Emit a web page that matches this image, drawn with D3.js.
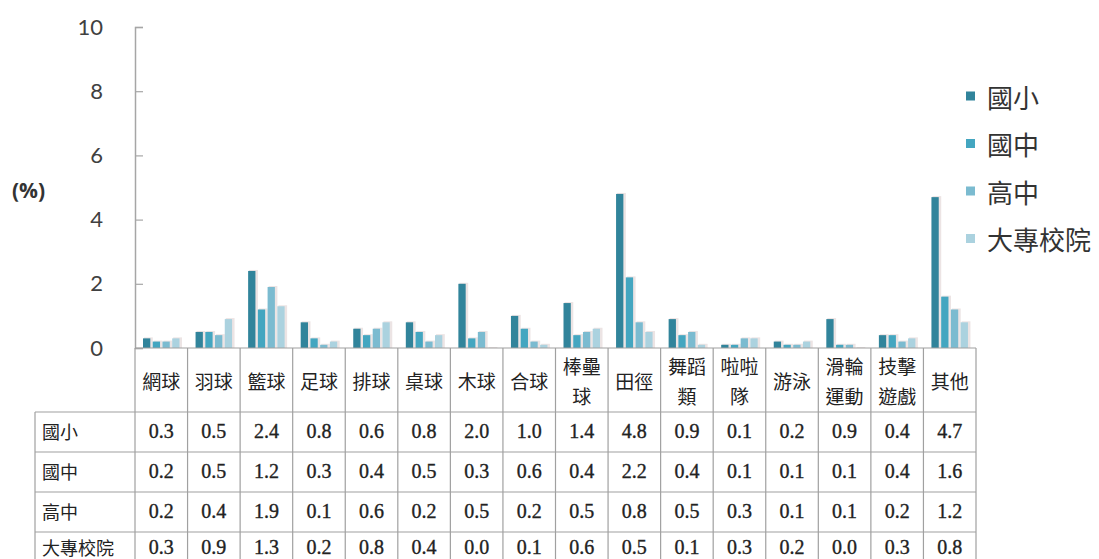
<!DOCTYPE html>
<html>
<head>
<meta charset="utf-8">
<script src="https://cdn.jsdelivr.net/npm/d3@7"></script>
<style>
  html, body { margin: 0; padding: 0; background: #fff; }
  svg { display: block; }
</style>
</head>
<body>
<div id="chart"></div>
<script>
// Sports categories (header lines split where the table wraps them)
const categories = ["網球","羽球","籃球","足球","排球","桌球","木球","合球","棒壘球","田徑","舞蹈類","啦啦隊","游泳","滑輪運動","技擊遊戲","其他"];
const categoryLines = [["網球"],["羽球"],["籃球"],["足球"],["排球"],["桌球"],["木球"],["合球"],["棒壘","球"],["田徑"],["舞蹈","類"],["啦啦","隊"],["游泳"],["滑輪","運動"],["技擊","遊戲"],["其他"]];

// School levels
const seriesNames = ["國小","國中","高中","大專校院"];

// Percentages per level, one value per category
const elementary = [0.3,0.5,2.4,0.8,0.6,0.8,2.0,1.0,1.4,4.8,0.9,0.1,0.2,0.9,0.4,4.7];
const juniorHigh = [0.2,0.5,1.2,0.3,0.4,0.5,0.3,0.6,0.4,2.2,0.4,0.1,0.1,0.1,0.4,1.6];
const seniorHigh = [0.2,0.4,1.9,0.1,0.6,0.2,0.5,0.2,0.5,0.8,0.5,0.3,0.1,0.1,0.2,1.2];
const college    = [0.3,0.9,1.3,0.2,0.8,0.4,0.0,0.1,0.6,0.5,0.1,0.3,0.2,0.0,0.3,0.8];
const seriesValues = [elementary, juniorHigh, seniorHigh, college];

const yTicks = [0,2,4,6,8,10];

const colors = ["#31849b","#44a6c0","#7bbbd0","#abd2df"];

const W = 1099, H = 559;
const plotLeft = 135, plotRight = 976, plotTop = 27, plotBase = 348;
const rowTop = 412, rowH = 40, labelLeft = 35;

const svg = d3.select("#chart").append("svg")
  .attr("width", W).attr("height", H);

const y = d3.scaleLinear().domain([0,10]).range([plotBase, plotTop]);
const x0 = d3.scaleBand().domain(categories).range([plotLeft, plotRight]).padding(0);
const x1 = d3.scaleBand().domain(seriesNames).range([8, 44.5]).paddingInner(0.25).paddingOuter(0);
const color = d3.scaleOrdinal().domain(seriesNames).range(colors);

const cjk = "'Noto Sans CJK TC', 'Noto Sans', sans-serif";

// Y axis with ticks pointing into the plot
const yAxis = svg.append("g")
  .attr("transform", `translate(${plotLeft},0)`)
  .call(d3.axisLeft(y).tickValues(yTicks).tickSize(-8).tickPadding(32).tickFormat(d3.format("d")));
yAxis.select(".domain").attr("stroke", "#a6a6a6").attr("stroke-width", 1.5);
yAxis.selectAll(".tick line").attr("stroke", "#a6a6a6").attr("stroke-width", 1.2);
yAxis.selectAll("text")
  .attr("fill", "#404040")
  .style("font-family", "Lato, 'Open Sans', sans-serif")
  .style("font-size", "22px");

svg.append("text")
  .attr("x", 12).attr("y", 190)
  .attr("dominant-baseline", "central")
  .style("font-family", "'Open Sans', Lato, sans-serif")
  .style("font-size", "21px").style("font-weight", "bold")
  .attr("fill", "#333")
  .text("(%)");

// Bars
const groups = svg.append("g").selectAll("g")
  .data(categories)
  .join("g")
  .attr("transform", d => `translate(${x0(d)},0)`);

groups.selectAll("rect.shadow")
  .data((c, i) => seriesNames.map((s, k) => ({ s, v: seriesValues[k][i] })))
  .join("rect")
  .attr("class", "shadow")
  .attr("x", d => x1(d.s) + 1)
  .attr("y", d => y(d.v) - 1)
  .attr("width", x1.bandwidth() + 1.5)
  .attr("height", d => plotBase - y(d.v) + 1)
  .attr("fill", "#ece4e4");

groups.selectAll("rect.bar")
  .data((c, i) => seriesNames.map((s, k) => ({ s, v: seriesValues[k][i] })))
  .join("rect")
  .attr("class", "bar")
  .attr("x", d => x1(d.s))
  .attr("y", d => y(d.v))
  .attr("width", x1.bandwidth())
  .attr("height", d => plotBase - y(d.v))
  .attr("fill", d => color(d.s));

// Data table below the plot
const grid = svg.append("g").attr("stroke", "#a0a0a0").attr("stroke-width", 1.2);
grid.append("line").attr("x1", plotLeft).attr("x2", plotRight).attr("y1", plotBase).attr("y2", plotBase);
const colEdges = categories.map(c => x0(c)).concat([plotRight]);
grid.selectAll("line.v").data(colEdges).join("line")
  .attr("class", "v")
  .attr("x1", d => d).attr("x2", d => d)
  .attr("y1", plotBase).attr("y2", H + 5);
grid.append("line").attr("x1", labelLeft).attr("x2", labelLeft).attr("y1", rowTop).attr("y2", H + 5);
grid.selectAll("line.h").data(d3.range(seriesNames.length)).join("line")
  .attr("class", "h")
  .attr("x1", labelLeft).attr("x2", plotRight)
  .attr("y1", d => rowTop + d * rowH).attr("y2", d => rowTop + d * rowH);

// Column headers
const headerMid = (plotBase + rowTop) / 2;
svg.append("g").selectAll("text")
  .data(categories)
  .join("text")
  .attr("x", d => x0(d) + x0.bandwidth() / 2)
  .attr("text-anchor", "middle")
  .style("font-family", cjk).style("font-size", "19px")
  .attr("fill", "#222")
  .each(function(d, i) {
    const lines = categoryLines[i];
    const sel = d3.select(this);
    lines.forEach((ln, j) => {
      sel.append("tspan")
        .attr("x", x0(d) + x0.bandwidth() / 2)
        .attr("y", headerMid + (j - (lines.length - 1) / 2) * 30)
        .attr("dominant-baseline", "central")
        .text(ln);
    });
  });

// Row labels and values (last row kept inside the visible area)
seriesNames.forEach((s, k) => {
  const cy = Math.min(rowTop + k * rowH + 19, H - 12);
  svg.append("text")
    .attr("x", 42).attr("y", cy)
    .attr("dominant-baseline", "central")
    .style("font-family", cjk).style("font-size", "18px")
    .attr("fill", "#222")
    .text(s);
  svg.append("g").selectAll("text")
    .data(seriesValues[k])
    .join("text")
    .attr("x", (d, i) => x0(categories[i]) + x0.bandwidth() / 2)
    .attr("y", cy)
    .attr("text-anchor", "middle")
    .attr("dominant-baseline", "central")
    .style("font-family", "'Liberation Serif', 'DejaVu Serif', serif")
    .style("font-size", "20px")
    .attr("fill", "#222")
    .attr("stroke", "#222")
    .attr("stroke-width", 0.35)
    .text(d => d.toFixed(1));
});

// Legend
const legend = svg.append("g").selectAll("g")
  .data(seriesNames)
  .join("g")
  .attr("transform", (d, i) => `translate(966,${96 + i * 47.5})`);
legend.append("rect")
  .attr("x", 0).attr("y", -4.5).attr("width", 9).attr("height", 9)
  .attr("fill", d => color(d));
legend.append("text")
  .attr("x", 21).attr("y", 0)
  .attr("dominant-baseline", "central")
  .style("font-family", cjk).style("font-size", "26px")
  .attr("fill", "#333")
  .text(d => d);
</script>
</body>
</html>
